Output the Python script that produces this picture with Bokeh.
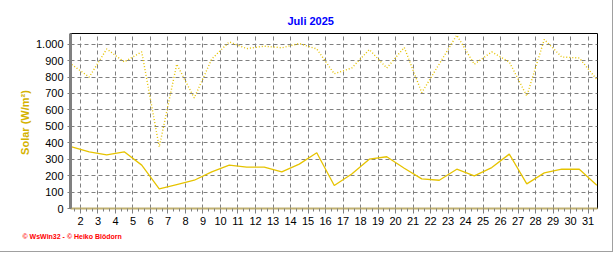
from bokeh.plotting import figure
from bokeh.models import FixedTicker, Range1d, Title
from bokeh.embed import file_html
from bokeh.resources import INLINE

# ---- data ----
days = list(range(1, 32))
solar_max = [876, 800, 971, 892, 953, 374, 878, 673, 910, 1014, 973, 988, 978, 1004, 971,
             820, 855, 967, 855, 980, 705, 880, 1055, 878, 953, 892, 685, 1029, 922, 916, 785]
solar_mean = [375, 345, 327, 345, 264, 120, 146, 172, 223, 264, 252, 252, 223, 270, 339,
              140, 210, 300, 315, 245, 180, 172, 239, 199, 249, 331, 150, 217, 239, 239, 142]
x_ticks = list(range(2, 32))
y_ticks = list(range(0, 1001, 100))
y_tick_labels = {t: ("1.000" if t == 1000 else str(t)) for t in y_ticks}
title_text = "Juli 2025"
y_label = "Solar  (W/m²)"
credit_text = "© WsWin32  -  © Heiko Blödorn"

# values are plotted at midday of each day
xs = [d + 0.5 for d in days]

LINE = "#E6C300"
GRID = "#808080"

p = figure(width=613, height=252, x_range=Range1d(1.43, 31.54), y_range=Range1d(0, 1065),
           output_backend="svg", toolbar_location=None,
           min_border_left=70, min_border_right=16, min_border_top=33, min_border_bottom=44,
           background_fill_color="white", border_fill_color="white")
p.styles = {"border-right": "1px solid #a0a0a0", "border-bottom": "1px solid #a0a0a0"}

p.outline_line_color = "black"
p.outline_line_width = 1

# title
p.title.text = title_text
p.title.align = "left"
p.title.offset = 217
p.title.standoff = 14
p.title.text_font = "Liberation Sans"
p.title.text_font_size = "11px"
p.title.text_font_style = "bold"
p.title.text_color = "#0000FF"

# grid
p.xgrid.ticker = FixedTicker(ticks=x_ticks)
p.ygrid.ticker = FixedTicker(ticks=y_ticks[1:])
for g in (p.xgrid, p.ygrid):
    g.grid_line_color = GRID
    g.grid_line_dash = "4 3"
    g.grid_line_width = 1

# x axis
minor = [d + f for d in range(1, 32) for f in (1/3, 2/3)]
p.xaxis.ticker = FixedTicker(ticks=x_ticks, minor_ticks=minor)
p.xaxis.axis_line_color = "#BFB070"
p.xaxis.axis_line_width = 2
p.xaxis.major_tick_line_color = GRID
p.xaxis.minor_tick_line_color = GRID
p.xaxis.major_tick_out = 5
p.xaxis.major_tick_in = 0
p.xaxis.minor_tick_out = 3
p.xaxis.minor_tick_in = 0
p.xaxis.major_label_standoff = 3
p.xaxis.major_label_text_font = "Liberation Sans"
p.xaxis.major_label_text_font_size = "11px"
p.xaxis.major_label_text_color = "black"

# y axis
p.yaxis.ticker = FixedTicker(ticks=y_ticks)
p.yaxis.major_label_overrides = y_tick_labels
p.yaxis.axis_line_color = "#808080"
p.yaxis.axis_line_width = 3
p.yaxis.major_tick_line_color = GRID
p.yaxis.major_tick_out = 3
p.yaxis.major_tick_in = 0
p.yaxis.minor_tick_line_color = None
p.yaxis.major_label_standoff = 4
p.yaxis.major_label_text_font = "Liberation Sans"
p.yaxis.major_label_text_font_size = "11px"
p.yaxis.major_label_text_color = "black"
p.yaxis.axis_label = y_label
p.yaxis.axis_label_text_font = "Liberation Sans"
p.yaxis.axis_label_text_font_size = "11px"
p.yaxis.axis_label_text_font_style = "bold"
p.yaxis.axis_label_text_color = "#D4B200"
p.yaxis.axis_label_standoff = 2

# series
p.line(xs, solar_max, line_color=LINE, line_width=1.4, line_dash="1 2")
p.line(xs, solar_mean, line_color=LINE, line_width=1.3)

# credit below the x axis
credit = Title(text=credit_text, align="left", offset=-48, standoff=6,
               text_font="Liberation Sans", text_font_size="7px", text_font_style="bold",
               text_color="#FF0000")
p.add_layout(credit, "below")

open("out.html", "w").write(file_html(p, INLINE))
